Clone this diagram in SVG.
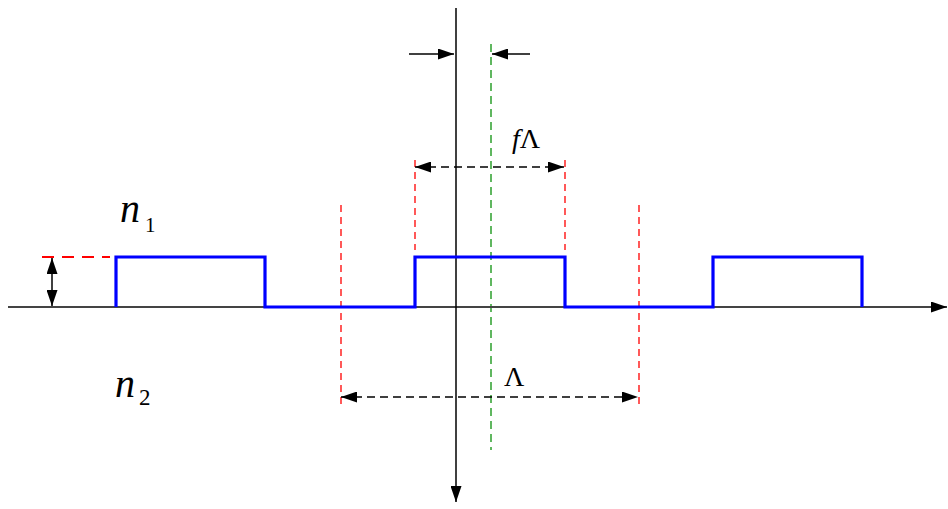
<svg xmlns="http://www.w3.org/2000/svg" width="948" height="509" viewBox="0 0 948 509">
<defs>
<marker id="ah" viewBox="0 0 16 11" refX="16" refY="5.5" markerWidth="16" markerHeight="11" markerUnits="userSpaceOnUse" orient="auto-start-reverse">
<path d="M0,0 L16,5.5 L0,11 Z" fill="#000"/>
</marker>
</defs>
<style>
.axis{stroke:#000;stroke-width:1.5;fill:none}
.haxis{stroke:#444;stroke-width:1.8;fill:none}
.wave{stroke:#0000ff;stroke-width:3.2;fill:none}
.red{stroke:#ff0000;stroke-width:1.3;stroke-dasharray:7,5;fill:none}
.green{stroke:#2ca02c;stroke-width:1.5;stroke-dasharray:8,5;fill:none}
.dim{stroke:#000;stroke-width:1.5;stroke-dasharray:8,5;fill:none}
.arr{stroke:#000;stroke-width:1.5;fill:none}
text{font-family:"Times New Roman",Times,"Liberation Serif","DejaVu Serif",serif;fill:#000}
</style>
<g id="guides">
<line class="red" x1="42" y1="257" x2="110" y2="257" style="stroke-width:1.8;stroke-dasharray:12,8"/>
<line class="red" x1="341" y1="205" x2="341" y2="406"/>
<line class="red" x1="415" y1="160" x2="415" y2="250"/>
<line class="red" x1="565" y1="160" x2="565" y2="250"/>
<line class="red" x1="639" y1="205" x2="639" y2="406"/>
<line class="green" x1="491" y1="44" x2="491" y2="450"/>
</g>
<g id="axes">
<line class="haxis" x1="8" y1="307" x2="947" y2="307" marker-end="url(#ah)"/>
<line class="axis" x1="456" y1="8" x2="456" y2="502" marker-end="url(#ah)"/>
</g>
<g id="waveform">
<path class="wave" d="M116,307 V257 H265 V307 H415 V257 H565 V307 H713 V257 H862 V307"/>
</g>
<g id="connectors">
<line class="arr" x1="52" y1="258" x2="52" y2="306" marker-start="url(#ah)" marker-end="url(#ah)"/>
<line class="arr" x1="409" y1="54" x2="454" y2="54" marker-end="url(#ah)"/>
<line class="arr" x1="530" y1="54" x2="492" y2="54" marker-end="url(#ah)"/>
<line class="dim" x1="415" y1="167" x2="564" y2="167" marker-start="url(#ah)" marker-end="url(#ah)"/>
<line class="dim" x1="341" y1="397" x2="638" y2="397" marker-start="url(#ah)" marker-end="url(#ah)"/>
</g>
<g id="labels">
<text x="120" y="222" font-size="40" font-style="italic">n</text>
<text x="145" y="232" font-size="21">1</text>
<text x="115" y="397" font-size="40" font-style="italic">n</text>
<text x="139" y="405" font-size="23">2</text>
<text x="512" y="148" font-size="28"><tspan font-style="italic">f</tspan>Λ</text>
<text x="504" y="386" font-size="28">Λ</text>
</g>
</svg>
